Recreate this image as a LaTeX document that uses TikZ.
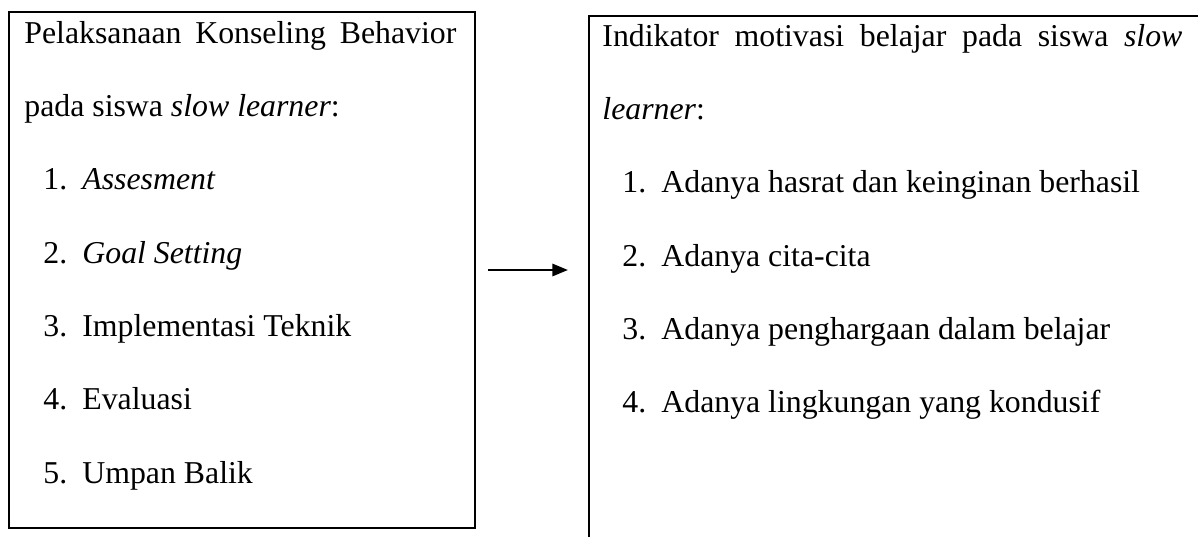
\documentclass[tikz,border=0pt]{standalone}
\usepackage{fontspec}
\setmainfont{Liberation Serif}
\usetikzlibrary{arrows.meta}
\newcommand{\numitem}[2]{\makebox[19.5pt][l]{#1}#2}
\begin{document}
\begin{tikzpicture}[x=0.5pt,y=-0.5pt,
  box/.style={draw, line width=1.1pt, inner sep=0pt, rectangle},
  txt/.style={anchor=base west, inner sep=0pt, font=\fontsize{15.9}{19}\selectfont},
  conn/.style={line width=1pt, -{Triangle[length=7.8pt,width=6.2pt]}}]
\clip (0,0) rectangle (1198,536);
\fill[white] (0,0) rectangle (1198,536);
% boxes
\node[box, minimum width=233pt, minimum height=258pt] (L) at (242,270) {};
\node[box, minimum width=350pt, minimum height=300pt] (R) at (939,316) {};
% left texts
\node[txt] (l1) at (24,43) {\makebox[216pt][s]{Pelaksanaan Konseling Behavior}};
\node[txt] (l2) at (24,116) {pada siswa \textit{slow learner}:};
\node[txt] (l3) at (43,189.5) {\numitem{1.}{\textit{Assesment}}};
\node[txt] (l4) at (43,263) {\numitem{2.}{\textit{Goal Setting}}};
\node[txt] (l5) at (43,336.5) {\numitem{3.}{Implementasi Teknik}};
\node[txt] (l6) at (43,409.5) {\numitem{4.}{Evaluasi}};
\node[txt] (l7) at (43,483) {\numitem{5.}{Umpan Balik}};
% right texts
\node[txt] (r1) at (602,46) {\makebox[290pt][s]{Indikator motivasi belajar pada siswa \textit{slow}}};
\node[txt] (r2) at (602,119) {\textit{learner}:};
\node[txt] (r3) at (622,192.5) {\numitem{1.}{Adanya hasrat dan keinginan berhasil}};
\node[txt] (r4) at (622,266) {\numitem{2.}{Adanya cita-cita}};
\node[txt] (r5) at (622,339.5) {\numitem{3.}{Adanya penghargaan dalam belajar}};
\node[txt] (r6) at (622,412.5) {\numitem{4.}{Adanya lingkungan yang kondusif}};
% connector
\draw[conn] ([xshift=6pt]L.east) -- ([xshift=-10pt]L.east -| R.west);
\end{tikzpicture}
\end{document}
